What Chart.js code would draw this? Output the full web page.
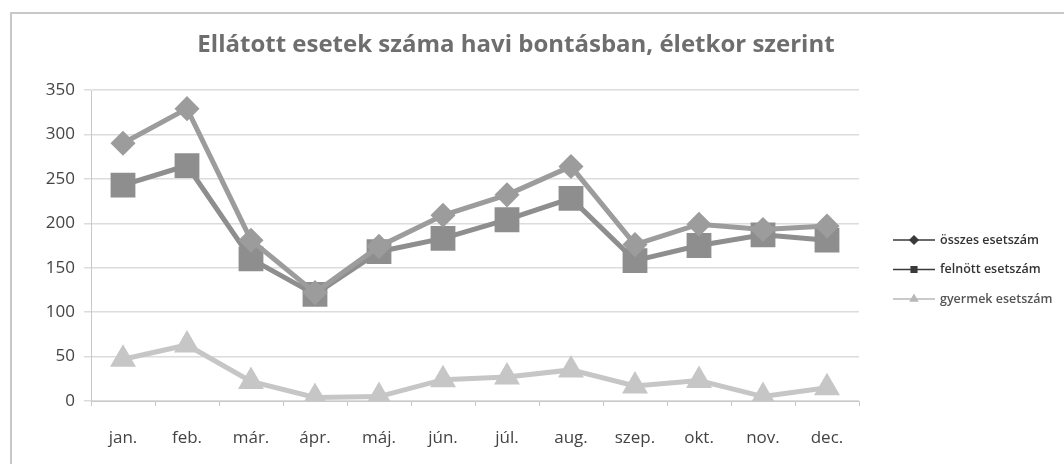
<!DOCTYPE html>
<html>
<head>
<meta charset="utf-8">
<script src="https://cdn.jsdelivr.net/npm/chart.js@4.4.0/dist/chart.umd.min.js"></script>
<style>
  body { margin: 0; background: #fff; }
  #wrap { width: 1064px; height: 464px; position: relative; }
</style>
</head>
<body>
<div id="wrap"><canvas id="chartCanvas" width="1064" height="464"></canvas></div>
<script>
var months = ['jan.', 'feb.', 'már.', 'ápr.', 'máj.', 'jún.', 'júl.', 'aug.', 'szep.', 'okt.', 'nov.', 'dec.'];
var osszes = [290, 329, 181, 122, 174, 209, 232, 264, 176, 199, 193, 197];
var felnott = [243, 265, 160, 120, 168, 183, 204, 228, 158, 175, 187, 181];
var gyermek = [47, 63, 22, 4, 5, 24, 27, 35, 17, 23, 5, 15];
var yTicks = [0, 50, 100, 150, 200, 250, 300, 350];

var titleText = 'Ellátott esetek száma havi bontásban, életkor szerint';
var fontName = '"Open Sans", "DejaVu Sans", sans-serif';

// title, frame and legend drawn by hand so they sit where the picture has them
var decorPlugin = {
    id: 'decor',
    beforeDraw: function (chart) {
        var c = chart.ctx;
        c.save();
        c.fillStyle = '#fff';
        c.fillRect(0, 0, chart.width, chart.height);
        c.strokeStyle = '#c8c8c8';
        c.lineWidth = 2;
        c.beginPath();
        c.moveTo(11, chart.height);
        c.lineTo(11, 13);
        c.lineTo(chart.width, 13);
        c.stroke();
        c.restore();
    },
    afterDraw: function (chart) {
        var c = chart.ctx;
        c.save();
        c.font = 'bold 24px ' + fontName;
        c.fillStyle = '#6e6e6e';
        c.textAlign = 'center';
        c.textBaseline = 'middle';
        c.fillText(titleText, 516, 45);

        var legendColors = ['#3a3a3a', '#3a3a3a', '#b8b8b8'];
        c.font = '600 12.5px ' + fontName;
        c.textAlign = 'left';
        chart.data.datasets.forEach(function (ds, i) {
            var y = 240 + i * 29.5;
            c.strokeStyle = legendColors[i];
            c.fillStyle = legendColors[i];
            c.lineWidth = 1.5;
            c.beginPath();
            c.moveTo(893, y);
            c.lineTo(935, y);
            c.stroke();
            Chart.helpers.drawPoint(c, {pointStyle: ds.pointStyle, radius: 4, borderWidth: 1}, 914, y);
            c.fill();
            c.fillStyle = i == 2 ? '#555' : '#333';
            c.fillText(ds.label, 940, y);
        });
        c.restore();
    }
};

var ctx = document.getElementById('chartCanvas').getContext('2d');
var myChart = new Chart(ctx, {
    type: 'line',
    data: {
        labels: months,
        datasets: [{
            label: 'összes esetszám',
            data: osszes,
            borderColor: '#9c9c9c',
            backgroundColor: '#9c9c9c',
            borderWidth: 5,
            pointStyle: 'rectRot',
            pointRadius: 9
        }, {
            label: 'felnött esetszám',
            data: felnott,
            borderColor: '#8e8e8e',
            backgroundColor: '#8e8e8e',
            borderWidth: 5,
            pointStyle: 'rect',
            pointRadius: 14
        }, {
            label: 'gyermek esetszám',
            data: gyermek,
            borderColor: '#c6c6c6',
            backgroundColor: '#c6c6c6',
            borderWidth: 5,
            pointStyle: 'triangle',
            pointRadius: 10
        }]
    },
    options: {
        responsive: false,
        animation: false,
        layout: { padding: { left: 0, right: 205, top: 90, bottom: 0 } },
        plugins: {
            legend: { display: false },
            title: { display: false },
            tooltip: { enabled: false }
        },
        scales: {
            x: {
                offset: true,
                grid: { display: true, drawOnChartArea: false, offset: true, tickLength: 5, color: '#c8c8c8' },
                border: { color: '#c8c8c8' },
                ticks: { color: '#444', font: { family: fontName, size: 17 }, padding: 22 },
                afterFit: function (scale) { scale.height = 63; }
            },
            y: {
                min: 0,
                max: 350,
                afterBuildTicks: function (scale) {
                    scale.ticks = yTicks.map(function (v) { return { value: v }; });
                },
                grid: { color: '#dcdcdc', tickLength: 7, lineWidth: 1.5 },
                border: { color: '#c8c8c8' },
                ticks: { color: '#444', font: { family: fontName, size: 17 }, padding: 9 },
                afterFit: function (scale) { scale.width = 91; }
            }
        }
    },
    plugins: [decorPlugin]
});
</script>
</body>
</html>
